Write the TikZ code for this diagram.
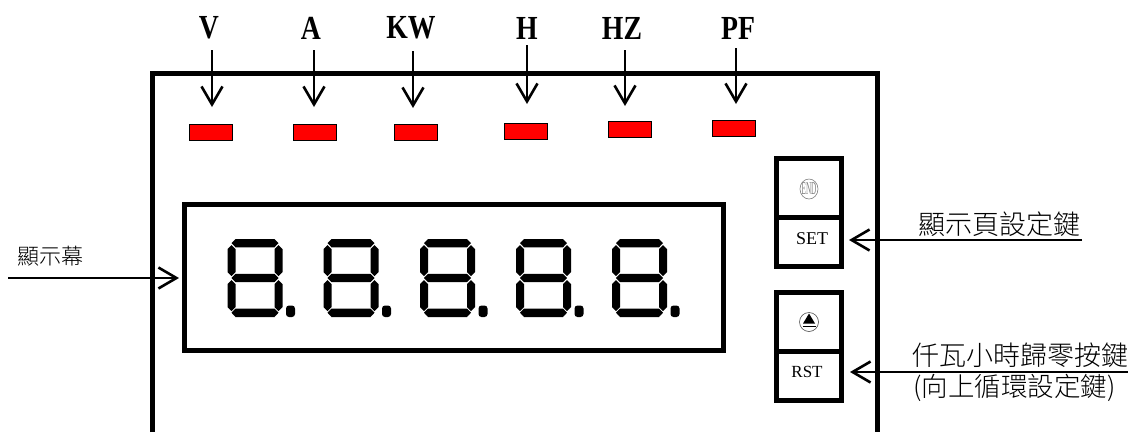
\documentclass[tikz,border=0pt]{standalone}
\usepackage{fontspec}
\setmainfont{Liberation Serif}
\newfontfamily\cjk{Noto Sans CJK TC Light}
\usetikzlibrary{arrows.meta,shapes.geometric}
\tikzset{
  x=1pt,y=-1pt,
  thickline/.style={line width=5pt,draw=black},
  ledlamp/.style={draw=black,line width=1pt,fill=red,minimum width=43pt,minimum height=16pt,inner sep=0pt,outer sep=0pt},
  unitlabel/.style={font=\bfseries\fontsize{33}{33}\selectfont,inner sep=0pt,transform shape,xscale=.84,yscale=1.02},
  keylabel/.style={font=\fontsize{18}{18}\selectfont,inner sep=0pt},
  cjklabel/.style={inner sep=0pt,font=\cjk\fontsize{27}{27}\selectfont},
  barbarrow/.style={line width=2.6pt,draw=black,-{Straight Barb[length=18pt,width=21pt,line width=2.6pt]}},
  keybox/.style={draw=black,line width=5pt,fill=white,minimum width=65pt,inner sep=0pt,outer sep=0pt},
  segment/.style={fill=black,draw=none},
}
\begin{document}
\begin{tikzpicture}
\useasboundingbox (0,0) rectangle (1128,432);
% case
\draw[thickline] (152,432) -- (152,73) -- (877,73) -- (877,432);
% display
\node[draw=black,line width=5pt,minimum width=538.5pt,minimum height=146.5pt,inner sep=0pt,anchor=north west,outer sep=0pt] (display) at (184.5,204) {};
% digits
\foreach \px/\dn in {227.5/1,323.5/2,420/3,516/4,612/5}{
\begin{scope}[shift={(\px,239)}]
  \fill[segment] (4,4)--(8,0)--(47,0)--(51,4)--(47,8.3)--(8,8.3)--cycle;
  \fill[segment] (4,39)--(8,34.8)--(47,34.8)--(51,39)--(47,43.2)--(8,43.2)--cycle;
  \fill[segment] (4,73.7)--(8,69.5)--(47,69.5)--(51,73.7)--(47,78)--(8,78)--cycle;
  \fill[segment] (4,6)--(8,10)--(8,33)--(4,37)--(0,33)--(0,10)--cycle;
  \fill[segment] (51,6)--(55,10)--(55,33)--(51,37)--(47,33)--(47,10)--cycle;
  \fill[segment] (4,41)--(8,45)--(8,68)--(4,72)--(0,68)--(0,45)--cycle;
  \fill[segment] (51,41)--(55,45)--(55,68)--(51,72)--(47,68)--(47,45)--cycle;
  \fill[segment,rounded corners=3pt] (58.5,66.5) rectangle (67.5,78);
\end{scope}
}
% LEDs
\node[ledlamp] (ledv) at (211,132) {};
\node[ledlamp] (leda) at (315,132) {};
\node[ledlamp] (ledk) at (416,132) {};
\node[ledlamp] (ledh) at (525.5,131.5) {};
\node[ledlamp] (ledz) at (629.5,129.5) {};
\node[ledlamp] (ledp) at (734,128.5) {};
% labels
\node[unitlabel] (lv) at (209,28) {V};
\node[unitlabel] (la) at (311,28) {A};
\node[unitlabel] (lk) at (411,28) {KW};
\node[unitlabel] (lh) at (527,28) {H};
\node[unitlabel] (lz) at (622,28) {HZ};
\node[unitlabel] (lp) at (738,28) {PF};
% arrows
\coordinate (v1) at (212,50); \coordinate (v2) at (212,107);
\coordinate (a1) at (314,50); \coordinate (a2) at (314,107);
\coordinate (k1) at (413,51); \coordinate (k2) at (413,108);
\coordinate (h1) at (527,45); \coordinate (h2) at (527,104);
\coordinate (z1) at (625,50); \coordinate (z2) at (625,106);
\coordinate (p1) at (736,48); \coordinate (p2) at (736,104);
\foreach \s/\e in {v1/v2,a1/a2,k1/k2,h1/h2,z1/z2,p1/p2}{\draw[barbarrow] (\s) -- (\e);}
% keys
\node[keybox,minimum height=61pt,anchor=north west] (endkey) at (776.5,158.5) {};
\node[keybox,minimum height=49pt,anchor=north west] (setkey) at (776.5,217) {};
\node[keybox,minimum height=61pt,anchor=north west] (upkey) at (776.5,292.5) {};
\node[keybox,minimum height=49pt,anchor=north west] (rstkey) at (776.5,351) {};
\node[keylabel] (setl) at (812,238.5) {SET};
\node[keylabel,font=\fontsize{17}{17}\selectfont] (rstl) at (807,372) {RST};
% END icon
\node[draw=gray,line width=.6pt,ellipse,minimum width=18pt,minimum height=20pt,inner sep=0pt] (endicon) at (809,189) {};
\node[inner sep=0pt,text=gray,font=\fontsize{12}{12}\selectfont,transform shape,xscale=.6,yscale=1.5] (endt) at (809,189) {END};
% eject icon
\node[draw=black!70,line width=.6pt,circle,minimum size=19pt,inner sep=0pt,fill=white] (ejecticon) at (809,322) {};
\fill[black] (803,323.5) -- (809,313.5) -- (815,323.5) -- cycle;
\draw[black,line width=1pt] (802.5,326) -- (815.5,326);
% side arrows and texts
\coordinate (d1) at (8,278); \coordinate (d2) at (179,278);
\coordinate (s1) at (1082,240); \coordinate (s2) at (849,240);
\coordinate (r1) at (1128,372); \coordinate (r2) at (850,372);
\draw[barbarrow] (d1) -- (d2);
\draw[barbarrow] (s1) -- (s2);
\draw[barbarrow] (r1) -- (r2);
\node[cjklabel,font=\cjk\fontsize{22}{22}\selectfont] (tdisp) at (50,256) {顯示幕};
\node[cjklabel] (tset) at (999.5,224) {顯示頁設定鍵};
\node[cjklabel] (trst) at (1020,355) {仟瓦小時歸零按鍵};
\node[cjklabel,font=\cjk\fontsize{26.5}{26.5}\selectfont] (tup) at (1014.5,388) {(向上循環設定鍵)};
\end{tikzpicture}
\end{document}
